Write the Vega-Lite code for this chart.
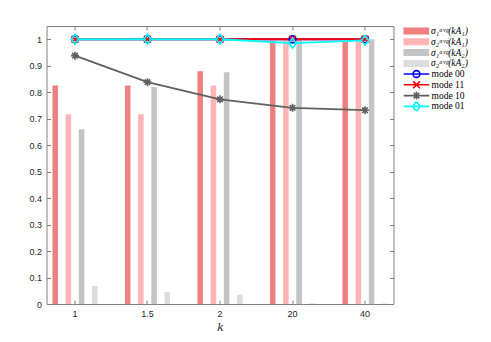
{
  "$schema": "https://vega.github.io/schema/vega-lite/v6.json",
  "width": 347,
  "height": 278,
  "autosize": "none",
  "padding": {"left": 46.5, "top": 26, "right": 97.5, "bottom": 38},
  "background": "white",
  "datasets": {
    "bars": [
      {"k": "1", "series": "σ₁ᵃᵛᵍ(kA₁)", "value": 0.825},
      {"k": "1", "series": "σ₂ᵃᵛᵍ(kA₁)", "value": 0.717},
      {"k": "1", "series": "σ₁ᵃᵛᵍ(kA₂)", "value": 0.66},
      {"k": "1", "series": "σ₂ᵃᵛᵍ(kA₂)", "value": 0.068},
      {"k": "1.5", "series": "σ₁ᵃᵛᵍ(kA₁)", "value": 0.825},
      {"k": "1.5", "series": "σ₂ᵃᵛᵍ(kA₁)", "value": 0.717},
      {"k": "1.5", "series": "σ₁ᵃᵛᵍ(kA₂)", "value": 0.82},
      {"k": "1.5", "series": "σ₂ᵃᵛᵍ(kA₂)", "value": 0.045},
      {"k": "2", "series": "σ₁ᵃᵛᵍ(kA₁)", "value": 0.879},
      {"k": "2", "series": "σ₂ᵃᵛᵍ(kA₁)", "value": 0.825},
      {"k": "2", "series": "σ₁ᵃᵛᵍ(kA₂)", "value": 0.875},
      {"k": "2", "series": "σ₂ᵃᵛᵍ(kA₂)", "value": 0.035},
      {"k": "20", "series": "σ₁ᵃᵛᵍ(kA₁)", "value": 0.994},
      {"k": "20", "series": "σ₂ᵃᵛᵍ(kA₁)", "value": 0.994},
      {"k": "20", "series": "σ₁ᵃᵛᵍ(kA₂)", "value": 1.0},
      {"k": "20", "series": "σ₂ᵃᵛᵍ(kA₂)", "value": 0.003},
      {"k": "40", "series": "σ₁ᵃᵛᵍ(kA₁)", "value": 0.994},
      {"k": "40", "series": "σ₂ᵃᵛᵍ(kA₁)", "value": 0.994},
      {"k": "40", "series": "σ₁ᵃᵛᵍ(kA₂)", "value": 1.0},
      {"k": "40", "series": "σ₂ᵃᵛᵍ(kA₂)", "value": 0.002}
    ],
    "lines": [
      {"k": "1", "mode": "mode 00", "value": 1.0},
      {"k": "1.5", "mode": "mode 00", "value": 1.0},
      {"k": "2", "mode": "mode 00", "value": 1.0},
      {"k": "20", "mode": "mode 00", "value": 1.0},
      {"k": "40", "mode": "mode 00", "value": 1.0},
      {"k": "1", "mode": "mode 11", "value": 1.0},
      {"k": "1.5", "mode": "mode 11", "value": 1.0},
      {"k": "2", "mode": "mode 11", "value": 1.0},
      {"k": "20", "mode": "mode 11", "value": 1.0},
      {"k": "40", "mode": "mode 11", "value": 1.0},
      {"k": "1", "mode": "mode 10", "value": 0.938},
      {"k": "1.5", "mode": "mode 10", "value": 0.838},
      {"k": "2", "mode": "mode 10", "value": 0.773},
      {"k": "20", "mode": "mode 10", "value": 0.741},
      {"k": "40", "mode": "mode 10", "value": 0.732},
      {"k": "1", "mode": "mode 01", "value": 1.0},
      {"k": "1.5", "mode": "mode 01", "value": 1.0},
      {"k": "2", "mode": "mode 01", "value": 1.0},
      {"k": "20", "mode": "mode 01", "value": 0.985},
      {"k": "40", "mode": "mode 01", "value": 0.996}
    ]
  },
  "layer": [
    {
      "data": {"name": "bars"},
      "mark": {"type": "bar"},
      "encoding": {
        "x": {
          "field": "k", "type": "ordinal", "sort": ["1", "1.5", "2", "20", "40"],
          "scale": {"paddingInner": 0.272, "paddingOuter": 0.029},
          "axis": {"orient": "bottom", "title": "k", "labelAngle": 0}
        },
        "xOffset": {
          "field": "series", "type": "nominal",
          "sort": ["σ₁ᵃᵛᵍ(kA₁)", "σ₂ᵃᵛᵍ(kA₁)", "σ₁ᵃᵛᵍ(kA₂)", "σ₂ᵃᵛᵍ(kA₂)"],
          "scale": {"paddingInner": 0.58, "paddingOuter": 0.29}
        },
        "y": {
          "field": "value", "type": "quantitative",
          "scale": {"domain": [0, 1.05], "nice": false, "zero": true},
          "axis": {"orient": "left", "title": null, "values": [0, 0.1, 0.2, 0.3, 0.4, 0.5, 0.6, 0.7, 0.8, 0.9, 1], "format": ".2~f"}
        },
        "fill": {
          "field": "series", "type": "nominal",
          "sort": ["σ₁ᵃᵛᵍ(kA₁)", "σ₂ᵃᵛᵍ(kA₁)", "σ₁ᵃᵛᵍ(kA₂)", "σ₂ᵃᵛᵍ(kA₂)"],
          "scale": {"domain": ["σ₁ᵃᵛᵍ(kA₁)", "σ₂ᵃᵛᵍ(kA₁)", "σ₁ᵃᵛᵍ(kA₂)", "σ₂ᵃᵛᵍ(kA₂)"], "range": ["#F08080", "#FFB5B5", "#C4C4C4", "#DDDDDD"]},
          "legend": {
            "title": null,
            "symbolType": "M-3.66,-1H3.66V1H-3.66Z",
            "symbolSize": 49,
            "symbolStrokeWidth": 0,
            "labelFontStyle": "italic",
            "symbolOffset": 17,
            "labelOffset": 10,
            "clipHeight": 10,
            "rowPadding": 0.8,
            "direction": "vertical"
          }
        }
      }
    },
    {
      "data": {"name": "lines"},
      "mark": {"type": "line", "strokeWidth": 1.8},
      "encoding": {
        "x": {"field": "k", "type": "ordinal", "sort": ["1", "1.5", "2", "20", "40"],
          "axis": {"orient": "top", "title": null, "labels": false}},
        "y": {"field": "value", "type": "quantitative",
          "axis": {"orient": "right", "title": null, "labels": false, "values": [0, 0.1, 0.2, 0.3, 0.4, 0.5, 0.6, 0.7, 0.8, 0.9, 1]}},
        "stroke": {"field": "mode", "type": "nominal", "sort": ["mode 00", "mode 11", "mode 10", "mode 01"],
          "scale": {"domain": ["mode 00", "mode 11", "mode 10", "mode 01"], "range": ["#0000FF", "#FF0000", "#606060", "#00FFFF"]},
          "legend": null}
      }
    },
    {
      "data": {"name": "lines"},
      "mark": {"type": "point", "filled": false, "strokeWidth": 1.6, "size": 64, "opacity": 1},
      "encoding": {
        "x": {"field": "k", "type": "ordinal", "sort": ["1", "1.5", "2", "20", "40"], "axis": null},
        "y": {"field": "value", "type": "quantitative", "axis": null},
        "stroke": {"field": "mode", "type": "nominal", "sort": ["mode 00", "mode 11", "mode 10", "mode 01"], "legend": null},
        "shape": {"field": "mode", "type": "nominal", "sort": ["mode 00", "mode 11", "mode 10", "mode 01"],
          "scale": {"domain": ["mode 00", "mode 11", "mode 10", "mode 01"],
            "range": ["M0.85,0A0.85,0.85 0 1 1 -0.85,0A0.85,0.85 0 1 1 0.85,0Z", "M-0.85,-0.85L0.85,0.85M-0.85,0.85L0.85,-0.85", "M0,-1V1M-1,0H1M-0.7,-0.7L0.7,0.7M-0.7,0.7L0.7,-0.7", "M0,-1.25L0.95,0L0,1.25L-0.95,0Z"]},
          "legend": null}
      }
    },
    {
      "data": {"name": "lines"},
      "mark": {"type": "point", "filled": false, "strokeWidth": 1.6, "size": 64, "opacity": 0},
      "encoding": {
        "x": {"field": "k", "type": "ordinal", "sort": ["1", "1.5", "2", "20", "40"], "axis": null},
        "y": {"field": "value", "type": "quantitative", "axis": null},
        "stroke": {"field": "mode", "type": "nominal", "sort": ["mode 00", "mode 11", "mode 10", "mode 01"],
          "legend": {"title": null, "symbolSize": 64, "symbolStrokeWidth": 1.6, "symbolOpacity": 1, "symbolOffset": 17, "labelOffset": 10, "clipHeight": 10, "rowPadding": 0.8, "direction": "vertical"}},
        "shape": {"field": "mode", "type": "nominal", "sort": ["mode 00", "mode 11", "mode 10", "mode 01"],
          "scale": {"domain": ["mode 00", "mode 11", "mode 10", "mode 01"],
            "range": ["M0.85,0A0.85,0.85 0 1 1 -0.85,0A0.85,0.85 0 1 1 0.85,0ZM-3.2,0H3.2", "M-0.85,-0.85L0.85,0.85M-0.85,0.85L0.85,-0.85M-3.2,0H3.2", "M0,-1V1M-1,0H1M-0.7,-0.7L0.7,0.7M-0.7,0.7L0.7,-0.7M-3.2,0H3.2", "M0,-1.25L0.95,0L0,1.25L-0.95,0ZM-3.2,0H3.2"]},
          "legend": {"title": null, "symbolSize": 64, "symbolStrokeWidth": 1.6, "symbolOpacity": 1, "symbolOffset": 17, "labelOffset": 10, "clipHeight": 10, "rowPadding": 0.8, "direction": "vertical"}}
      }
    }
  ],
  "resolve": {
    "axis": {"x": "independent", "y": "independent"},
    "scale": {"shape": "independent"},
    "legend": {"stroke": "independent", "shape": "independent"}
  },
  "config": {
    "view": {"stroke": null},
    "axis": {
      "grid": false,
      "domainColor": "#808080",
      "tickColor": "#808080",
      "tickSize": -4,
      "labelPadding": 9,
      "labelFont": "Liberation Sans",
      "labelFontSize": 9,
      "labelColor": "#262626",
      "titleFont": "DejaVu Serif",
      "titleFontStyle": "italic",
      "titleFontWeight": "normal",
      "titleFontSize": 11,
      "titleColor": "#262626",
      "titlePadding": 3
    },
    "legend": {
      "orient": "right",
      "offset": 0,
      "padding": 0,
      "rowPadding": 0.8,
      "labelFont": "Liberation Serif",
      "labelFontSize": 9.5,
      "labelColor": "#000000",
      "layout": {"right": {"anchor": "start", "direction": "vertical", "margin": -5}}
    }
  }
}
